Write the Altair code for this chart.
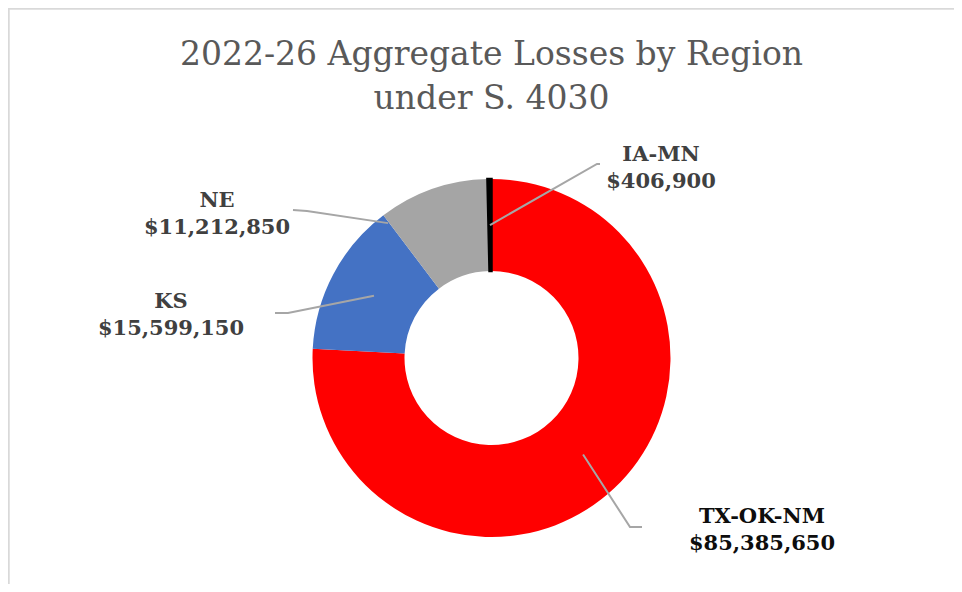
import math
import altair as alt
import pandas as pd

# ---- data ----
regions = ["TX-OK-NM", "KS", "NE", "IA-MN"]
losses = [85385650, 15599150, 11212850, 406900]
slice_colors = ["#FF0000", "#4472C4", "#A5A5A5", "#000000"]
title_lines = ["2022-26 Aggregate Losses by Region", "under S. 4030"]

# ---- layout (pixels inside the plot area) ----
W, H = 946, 576
CX, CY = 483.5, 350.0
R_OUT, R_IN = 179, 87
R_MID = (R_OUT + R_IN) / 2

# label text anchor (center x, baseline of first line) and leader elbow/end
label_pos = {
    "TX-OK-NM": (754, 515),
    "KS": (163, 300),
    "NE": (209, 199),
    "IA-MN": (653, 153),
}
label_color = {"TX-OK-NM": "#0D0D0D", "KS": "#404040", "NE": "#404040", "IA-MN": "#404040"}
leader_tail = {
    "TX-OK-NM": [(622, 519), (634, 519)],
    "KS": [(280, 305), (267, 305)],
    "NE": [(299, 203), (285, 202)],
    "IA-MN": [(589, 156), (592, 156)],
}
# NE's leader in the reference starts near the outer edge, not at mid-angle
anchor_override = {"NE": (322.5, 170)}

df = pd.DataFrame({"region": regions, "loss": losses, "idx": range(len(regions))})
df["label"] = df["loss"].map(lambda v: f"${v:,.0f}")

total = sum(losses)
rows_line = []
cum = 0
for reg, val in zip(regions, losses):
    mid = (cum + val / 2) / total * 360
    cum += val
    ang, rad = anchor_override.get(reg, (mid, R_MID))
    sx = CX + rad * math.sin(math.radians(ang))
    sy = CY - rad * math.cos(math.radians(ang))
    pts = [(sx, sy)] + leader_tail[reg]
    for i, (px, py) in enumerate(pts):
        rows_line.append({"region": reg, "seq": i, "px": px, "py": py})
df_lines = pd.DataFrame(rows_line)

rows_lab = []
for reg, lab in zip(df["region"], df["label"]):
    x, y = label_pos[reg]
    rows_lab.append({"text": reg, "px": x, "py": y, "col": label_color[reg]})
    rows_lab.append({"text": lab, "px": x, "py": y + 27, "col": label_color[reg]})
df_lab = pd.DataFrame(rows_lab)

df_title = pd.DataFrame({"text": title_lines, "px": [CX, CX], "py": [57, 101]})

arcs = alt.Chart(df).mark_arc(innerRadius=R_IN, outerRadius=R_OUT).encode(
    theta=alt.Theta("loss:Q", stack=True),
    order=alt.Order("idx:Q"),
    color=alt.Color("region:N", scale=alt.Scale(domain=regions, range=slice_colors), legend=None),
    stroke=alt.Color("region:N", scale=alt.Scale(domain=regions, range=slice_colors), legend=None),
    strokeWidth=alt.condition(alt.datum.region == "IA-MN", alt.value(2.5), alt.value(0)),
    x=alt.value(CX),
    y=alt.value(CY),
)

leaders = alt.Chart(df_lines).mark_line(color="#A6A6A6", strokeWidth=2).encode(
    x=alt.X("px:Q", scale=None, axis=None),
    y=alt.Y("py:Q", scale=None, axis=None),
    detail="region:N",
    order=alt.Order("seq:Q"),
)

labels = alt.Chart(df_lab).mark_text(
    font="DejaVu Serif", fontWeight="bold", fontSize=21, align="center", baseline="alphabetic"
).encode(
    x=alt.X("px:Q", scale=None, axis=None),
    y=alt.Y("py:Q", scale=None, axis=None),
    text="text:N",
    color=alt.Color("col:N", scale=None),
)

title = alt.Chart(df_title).mark_text(
    font="DejaVu Serif", fontSize=33, color="#595959", align="center", baseline="alphabetic"
).encode(
    x=alt.X("px:Q", scale=None, axis=None),
    y=alt.Y("py:Q", scale=None, axis=None),
    text="text:N",
)

border_top = alt.Chart(df_title).mark_rule(color="#D9D9D9", strokeWidth=1.5).encode(
    x=alt.value(0), x2=alt.value(W), y=alt.value(0.75)
)
border_left = alt.Chart(df_title).mark_rule(color="#D9D9D9", strokeWidth=1.5).encode(
    x=alt.value(0.75), y=alt.value(0), y2=alt.value(H)
)

chart = alt.layer(border_top, border_left, arcs, leaders, labels, title).properties(
    width=W, height=H, autosize="none", padding=0, background="white"
).configure_view(strokeWidth=0, stroke="transparent")

chart.save("out.html", embed_options={"renderer": "svg", "actions": False})
